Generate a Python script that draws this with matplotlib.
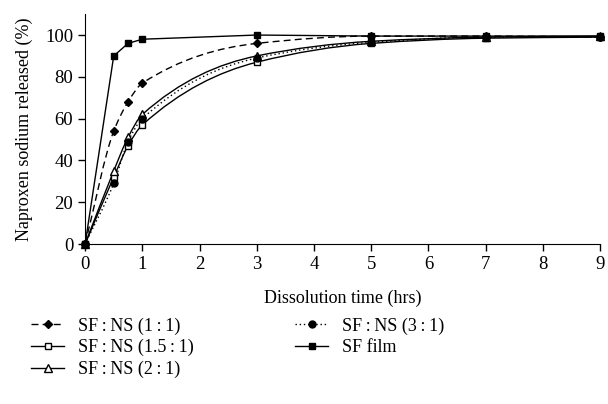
import matplotlib
matplotlib.use("Agg")
import matplotlib.pyplot as plt
from matplotlib.path import Path
from matplotlib.patches import PathPatch
from matplotlib.lines import Line2D

plt.rcParams['font.family'] = ['Liberation Serif', 'DejaVu Serif']

time = [0, 0.5, 0.75, 1, 3, 5, 7, 9]
ns_1_1 = [0, 54, 68, 77, 96, 99.5, 99.5, 99]
ns_15_1 = [0, 32, 47, 57, 87, 96, 98.5, 99]
ns_2_1 = [0, 35, 51, 62, 90, 97, 99, 99.5]
ns_3_1 = [0, 29, 49, 60, 89, 96.5, 99, 99]
sf_film = [0, 90, 96, 98, 100, 99.5, 99.5, 99.5]

labels = ["SF\u2009:\u2009NS (1\u2009:\u20091)", "SF\u2009:\u2009NS (1.5\u2009:\u20091)",
          "SF\u2009:\u2009NS (2\u2009:\u20091)", "SF\u2009:\u2009NS (3\u2009:\u20091)", "SF film"]


def smooth_path(xs, ys):
    """Monotone (PCHIP-like) smoothed line through the data points, as Bezier curves."""
    n = len(xs)
    h = [xs[i + 1] - xs[i] for i in range(n - 1)]
    d = [(ys[i + 1] - ys[i]) / h[i] for i in range(n - 1)]
    m = [0.0] * n
    m[0] = d[0]
    m[-1] = d[-1]
    for i in range(1, n - 1):
        if d[i - 1] * d[i] <= 0:
            m[i] = 0.0
        else:
            w1 = 2 * h[i] + h[i - 1]
            w2 = h[i] + 2 * h[i - 1]
            m[i] = (w1 + w2) / (w1 / d[i - 1] + w2 / d[i])
    verts = [(xs[0], ys[0])]
    codes = [Path.MOVETO]
    for i in range(n - 1):
        c1 = (xs[i] + h[i] / 3.0, ys[i] + m[i] * h[i] / 3.0)
        c2 = (xs[i + 1] - h[i] / 3.0, ys[i + 1] - m[i + 1] * h[i] / 3.0)
        verts += [c1, c2, (xs[i + 1], ys[i + 1])]
        codes += [Path.CURVE4] * 3
    return Path(verts, codes)


fig = plt.figure(figsize=(6.08, 4.04), dpi=100)
ax = fig.add_axes([0.14, 0.396, 0.847, 0.569])

series = [
    (ns_1_1, (0, (5, 3)), 'D', 4.5, 'black', True),
    (ns_15_1, '-', 's', 5, 'white', True),
    (ns_2_1, '-', '^', 5.5, 'white', True),
    (ns_3_1, (0, (1, 2)), 'o', 5, 'black', True),
    (sf_film, '-', 's', 5, 'black', False),
]

handles = []
for (vals, ls, mk, ms, mfc, smooth), lab in zip(series, labels):
    if smooth:
        patch = PathPatch(smooth_path(time, vals), facecolor='none', edgecolor='black',
                          lw=1, linestyle=ls, clip_on=False, zorder=2)
        ax.add_patch(patch)
    else:
        ax.plot(time, vals, color='black', lw=1, ls=ls, clip_on=False, zorder=2)
    ax.plot(time, vals, ls='none', marker=mk, ms=ms, mfc=mfc, mec='black', mew=1,
            clip_on=False, zorder=3)
    handles.append(Line2D([], [], color='black', lw=1, ls=ls, marker=mk, ms=ms,
                          mfc=mfc, mec='black', label=lab))

ax.set_xlim(0, 9)
ax.set_ylim(0, 110)
ax.set_xticks(range(0, 10))
ax.set_yticks(range(0, 101, 20))
ax.spines['top'].set_visible(False)
ax.spines['right'].set_visible(False)
ax.tick_params(direction='out', length=5, labelsize=13.5, width=1)
ax.set_xlabel("Dissolution time (hrs)", fontsize=13, labelpad=12)
ax.set_ylabel("Naproxen sodium released (%)", fontsize=13, labelpad=9)

leg = fig.legend(handles=handles, loc='upper left', bbox_to_anchor=(0.025, 0.255), ncol=2,
                 frameon=False, fontsize=13, handlelength=1.8, handletextpad=0.8,
                 columnspacing=5.6, labelspacing=0.25)

fig.savefig("out.png", dpi=100)
